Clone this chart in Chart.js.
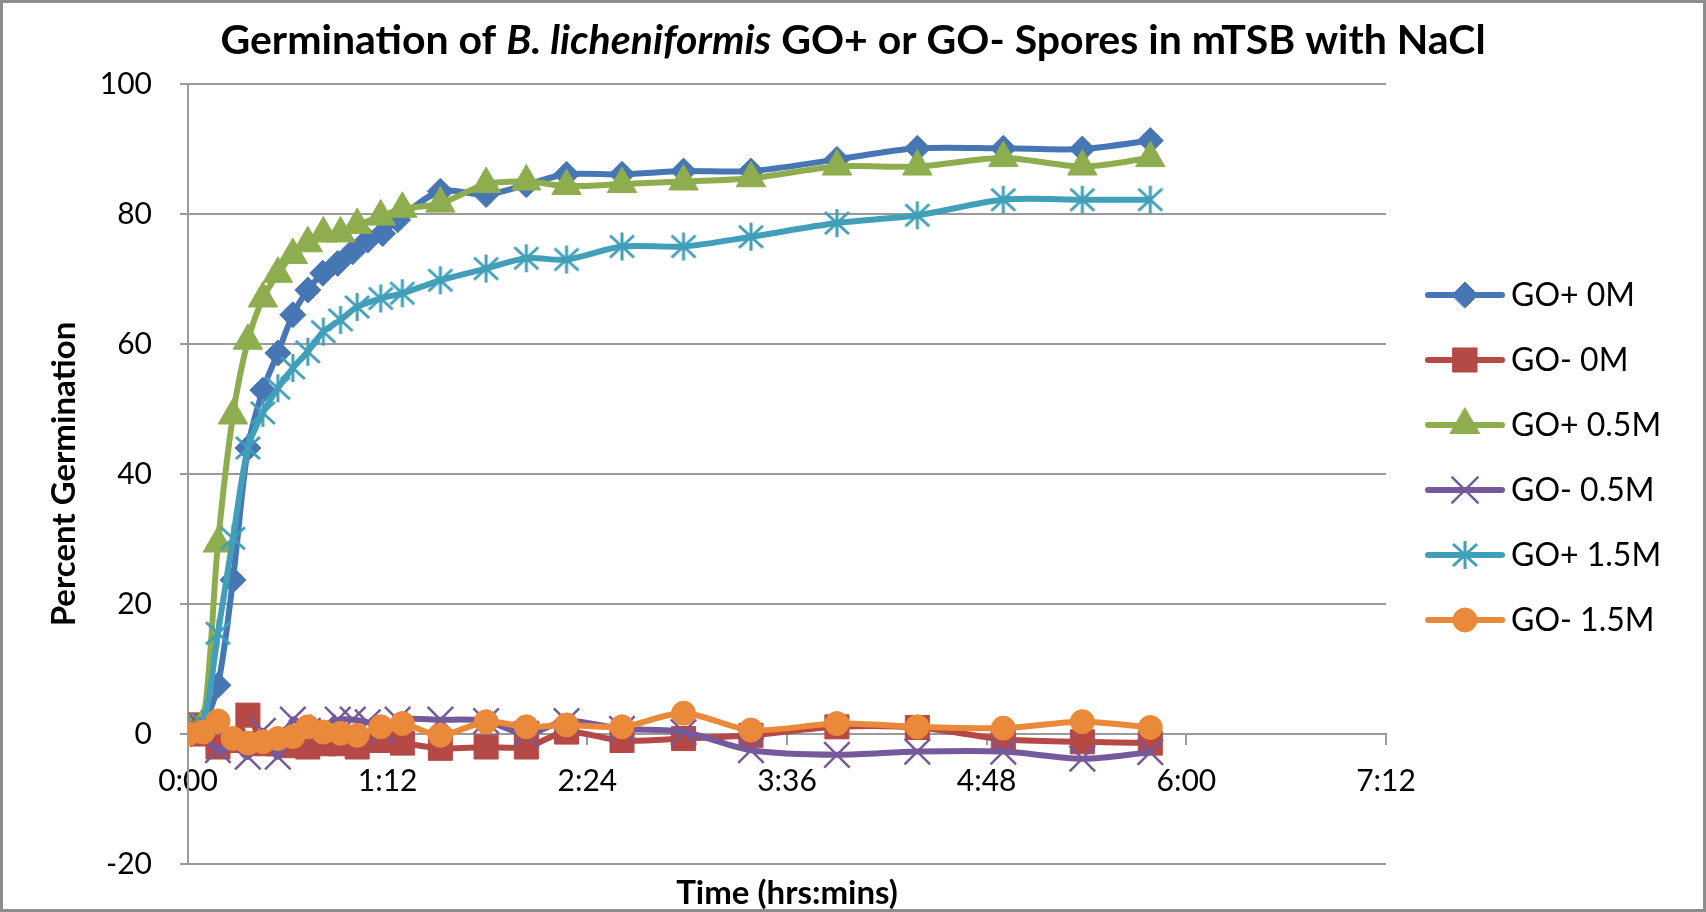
<!DOCTYPE html>
<html>
<head>
<meta charset="utf-8">
<title>Germination of B. licheniformis spores in mTSB with NaCl</title>
<script src="https://cdn.jsdelivr.net/npm/chart.js@4.4.1/dist/chart.umd.min.js"></script>
<style>
  html, body { margin: 0; padding: 0; background: #fff; }
  #wrap { width: 1706px; height: 912px; }
</style>
</head>
<body>
<div id="wrap"><canvas id="myChart" width="1706" height="912"></canvas></div>
<script>
// sampling times in minutes (the 0M pair of GO+ / GO- 0.5M were read on a slightly different schedule)
const timesA = [0, 5.4, 10.8, 16.2, 21.6, 27, 32.4, 37.8, 43.2, 48.6, 54, 59.4, 64.8, 70.2, 75.6,
                91, 107.5, 122, 136.5, 156.5, 178.7, 203, 234, 263, 294, 322.5, 347];
const timesB = [0, 5.4, 10.8, 16.2, 21.6, 27, 32.4, 37.8, 43.2, 48.8, 55, 61, 69.5, 77.3,
                91, 107.5, 122, 136.5, 156.5, 178.7, 203, 234, 263, 294, 322.5, 347];

// percent germination
const goPlus0M = [0.5, 1.5, 7.5, 23.7, 44, 52.9, 58.6, 64.5, 68.3, 70.9, 72.4, 74.2, 76, 77, 79.1,
                  83.5, 83, 84.5, 86.1, 86.1, 86.6, 86.6, 88.4, 90.1, 90.1, 90, 91.3];
const goMinus0M = [1.4, 0, -2, -1, 2.9, -1.5, -1.5, -1.8, -2, -1.5, -1.5, -2, -1, -1.4,
                   -2.2, -2, -2, 0.3, -1, -0.7, -0.2, 1.1, 1.0, -0.8, -1.2, -1.4];
const goPlus05M = [0.5, 1.5, 29.3, 49, 60.5, 67, 70.8, 73.7, 75.5, 77, 77, 78.3, 79.6, 80.8,
                   81.6, 84.6, 85, 84.3, 84.6, 85, 85.5, 87.3, 87.3, 88.6, 87.3, 88.6];
const goMinus05M = [0.5, 0, -2.5, -1.5, -3.5, 0.5, -3.5, 2.2, 0.5, 1, 2.2, 2.2, 1.8, 0.5, 2.2,
                    2.2, 2, 0, 2, 0.8, 0.3, -2.5, -3.2, -2.7, -2.7, -3.8, -2.8];
const goPlus15M = [0.5, 1.5, 15.5, 30.1, 44, 49.4, 53.2, 56.3, 58.8, 61.9, 63.7, 65.7, 67, 67.8,
                   69.8, 71.6, 73.2, 73, 75, 75, 76.5, 78.6, 79.8, 82.2, 82.2, 82.2];
const goMinus15M = [0, 0.3, 2, -0.7, -1.4, -1.2, -0.7, -0.4, 1.1, 0.3, 0.1, -0.2, 1.1, 1.6,
                    -0.2, 1.9, 1.1, 1.4, 1.1, 3.2, 0.6, 1.6, 1.1, 0.9, 1.9, 1.0];

const seriesNames = ['GO+ 0M', 'GO- 0M', 'GO+ 0.5M', 'GO- 0.5M', 'GO+ 1.5M', 'GO- 1.5M'];
const xTickLabels = ['0:00', '1:12', '2:24', '3:36', '4:48', '6:00', '7:12'];

Chart.defaults.font.family = 'Lato, "Noto Sans", sans-serif';
Chart.defaults.color = '#000';

const toPoints = (ts, vs) => vs.map((v, i) => ({ x: ts[i], y: v }));

// excel style asterisk: an X with a vertical bar
function asterisk(color) {
    const c = document.createElement('canvas');
    c.width = 30;
    c.height = 30;
    const g = c.getContext('2d');
    g.strokeStyle = color;
    g.lineWidth = 3;
    g.beginPath();
    g.moveTo(3, 4); g.lineTo(27, 26);
    g.moveTo(27, 4); g.lineTo(3, 26);
    g.moveTo(15, 1); g.lineTo(15, 29);
    g.stroke();
    return c;
}

const colors = ['#4776b4', '#b54946', '#8ead4e', '#75599b', '#419fb9', '#ea893a'];
const markers = [
    { pointStyle: 'rectRot', pointRadius: 13, pointBorderWidth: 1 },
    { pointStyle: 'rect', pointRadius: 17, pointBorderWidth: 1 },
    { pointStyle: 'triangle', pointRadius: 17, pointBorderWidth: 1 },
    { pointStyle: 'crossRot', pointRadius: 18, pointBorderWidth: 2.5 },
    { pointStyle: asterisk(colors[4]), pointRadius: 15, pointBorderWidth: 1 },
    { pointStyle: 'circle', pointRadius: 12, pointBorderWidth: 1 }
];
const seriesData = [
    toPoints(timesA, goPlus0M),
    toPoints(timesB, goMinus0M),
    toPoints(timesB, goPlus05M),
    toPoints(timesA, goMinus05M),
    toPoints(timesB, goPlus15M),
    toPoints(timesB, goMinus15M)
];

const datasets = seriesNames.map((name, i) => ({
    label: name,
    data: seriesData[i],
    borderColor: colors[i],
    backgroundColor: colors[i],
    pointBackgroundColor: colors[i],
    pointBorderColor: colors[i],
    borderWidth: 6,
    tension: 0.3,
    order: seriesNames.length - i,
    ...markers[i]
}));

// white page with the grey chart-area frame
const frame = {
    id: 'frame',
    beforeDraw(chart) {
        const ctx = chart.ctx;
        ctx.save();
        ctx.fillStyle = '#fff';
        ctx.fillRect(0, 0, chart.width, chart.height);
        ctx.restore();
    },
    afterDraw(chart) {
        const ctx = chart.ctx;
        ctx.save();
        ctx.strokeStyle = '#8c8c8c';
        ctx.lineWidth = 3;
        ctx.strokeRect(1.5, 1.5, chart.width - 3, chart.height - 3);
        ctx.restore();
    }
};

// title with the species name in italics
const mixedTitle = {
    id: 'mixedTitle',
    afterDraw(chart) {
        const ctx = chart.ctx;
        const size = 41;
        const parts = [
            ['Germination of ', 'bold'],
            ['B. licheniformis', 'italic bold'],
            [' GO+ or GO- Spores in mTSB with NaCl', 'bold']
        ];
        const fam = Chart.defaults.font.family;
        ctx.save();
        ctx.fillStyle = '#000';
        ctx.textBaseline = 'middle';
        ctx.textAlign = 'left';
        let total = 0;
        parts.forEach(p => {
            ctx.font = p[1] + ' ' + size + 'px ' + fam;
            total += ctx.measureText(p[0]).width;
        });
        let x = chart.width / 2 - total / 2;
        parts.forEach(p => {
            ctx.font = p[1] + ' ' + size + 'px ' + fam;
            ctx.fillText(p[0], x, 41);
            x += ctx.measureText(p[0]).width;
        });
        ctx.restore();
    }
};

// legend rows: line segment with the series marker in the middle
const lineLegend = {
    id: 'lineLegend',
    afterDraw(chart) {
        const ctx = chart.ctx;
        ctx.save();
        chart.data.datasets.forEach((ds, i) => {
            const y = 295 + i * 65;
            ctx.strokeStyle = ds.borderColor;
            ctx.lineWidth = 6;
            ctx.lineCap = 'round';
            ctx.beginPath();
            ctx.moveTo(1428, y);
            ctx.lineTo(1502, y);
            ctx.stroke();
            ctx.fillStyle = ds.pointBackgroundColor;
            ctx.strokeStyle = ds.pointBorderColor;
            ctx.lineWidth = ds.pointBorderWidth;
            Chart.helpers.drawPoint(ctx, {
                pointStyle: ds.pointStyle,
                radius: ds.pointRadius,
                borderWidth: ds.pointBorderWidth,
                rotation: 0
            }, 1465, y);
            ctx.fillStyle = '#000';
            ctx.font = '32px ' + Chart.defaults.font.family;
            ctx.textBaseline = 'middle';
            ctx.fillText(ds.label, 1511, y + 1);
        });
        ctx.restore();
    }
};

const ctx = document.getElementById('myChart').getContext('2d');
const myChart = new Chart(ctx, {
    type: 'line',
    data: { datasets: datasets },
    plugins: [frame, mixedTitle, lineLegend],
    options: {
        responsive: false,
        animation: false,
        layout: { padding: { left: 0, right: 320, top: 84, bottom: 48 } },
        plugins: {
            legend: { display: false },
            tooltip: { enabled: false }
        },
        scales: {
            x: {
                type: 'linear',
                min: 0,
                max: 432,
                position: { y: 0 },
                grid: { drawOnChartArea: false, tickLength: 10, color: '#9a9a9a', lineWidth: 2 },
                border: { color: '#9a9a9a', width: 2 },
                ticks: {
                    stepSize: 72,
                    padding: 19,
                    autoSkip: false,
                    maxRotation: 0,
                    font: { size: 30 },
                    callback: (v, i) => xTickLabels[i]
                },
                title: {
                    display: true,
                    text: 'Time (hrs:mins)',
                    font: { size: 33, weight: 'bold' },
                    padding: { top: 56, bottom: 0 }
                }
            },
            y: {
                min: -20,
                max: 100,
                grid: { color: '#9a9a9a', lineWidth: 2, tickLength: 8 },
                border: { color: '#9a9a9a', width: 2 },
                ticks: { stepSize: 20, padding: 28, font: { size: 30 } },
                title: {
                    display: true,
                    text: 'Percent Germination',
                    font: { size: 33, weight: 'bold' },
                    padding: { top: 45, bottom: 0 }
                },
                afterFit: s => { s.width = 188; }
            }
        }
    }
});
</script>
</body>
</html>
